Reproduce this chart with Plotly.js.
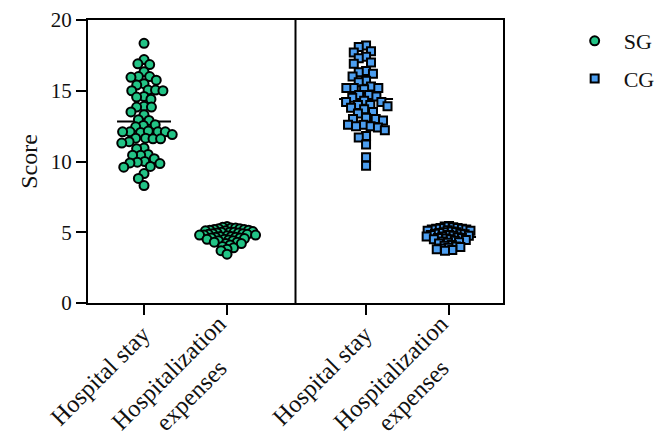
<!DOCTYPE html>
<html>
<head>
<meta charset="utf-8">
<script src="https://cdn.plot.ly/plotly-3.0.1.min.js"></script>
<style>html,body{margin:0;padding:0;background:#fff;}#chart{width:672px;height:438px;}</style>
</head>
<body>
<div id="chart"></div>
<script>
// ---------- data ----------
const categories = ['Hospital stay', 'Hospitalization expenses'];
const categoryLabels = ['Hospital stay', 'Hospitalization<br>expenses'];
const groups = ['SG', 'CG'];
const yTicks = [0, 5, 10, 15, 20];

const sgStay = [18.35, 17.2, 16.9, 16.85, 16.35, 16.0, 16.0, 15.95, 15.75, 15.5, 15.4, 15.05, 15.05, 15.0, 15.0,
  14.6, 14.55, 14.4, 13.9, 13.85, 13.85, 13.5, 13.3, 12.95, 12.9, 12.6, 12.55, 12.45, 12.1, 12.1, 12.1, 12.05,
  12.1, 12.15, 11.9, 11.65, 11.6, 11.6, 11.65, 11.4, 11.3, 10.95, 10.9, 10.5, 10.45, 10.45, 10.2, 10.0, 9.95,
  9.9, 9.85, 9.65, 9.6, 9.15, 8.8, 8.3];
const sgExpenses = [5.4, 5.35, 5.3, 5.3, 5.25, 5.25, 5.2, 5.2, 5.15, 5.15, 5.1, 5.1, 5.05, 5.0, 5.0, 5.0, 4.95, 4.95,
  4.9, 4.9, 4.85, 4.85, 4.8, 4.8, 4.8, 4.75, 4.7, 4.7, 4.65, 4.65, 4.6, 4.6, 4.55, 4.5, 4.5, 4.45, 4.4, 4.4,
  4.3, 4.3, 4.2, 4.2, 4.1, 4.0, 3.9, 3.8, 3.7, 3.45];
const cgStay = [18.2, 18.1, 17.8, 17.7, 17.4, 17.3, 17.0, 16.9, 16.4, 16.3, 16.2, 16.0, 15.7, 15.6, 15.3, 15.2,
  15.2, 15.2, 15.1, 14.7, 14.7, 14.6, 14.5, 14.3, 14.2, 14.2, 14.0, 14.0, 13.9, 13.8, 13.7, 13.5, 13.4, 13.1,
  13.0, 13.0, 12.9, 12.6, 12.6, 12.5, 12.5, 12.4, 12.2, 11.8, 11.7, 11.2, 10.3, 9.7];
const cgExpenses = [5.45, 5.4, 5.35, 5.3, 5.3, 5.25, 5.25, 5.2, 5.2, 5.15, 5.1, 5.1, 5.05, 5.0, 5.0, 4.95, 4.9,
  4.9, 4.85, 4.8, 4.8, 4.75, 4.75, 4.7, 4.7, 4.65, 4.6, 4.6, 4.55, 4.5, 4.5, 4.45, 4.4, 4.35, 4.3, 4.25, 4.2,
  4.1, 4.05, 4.0, 3.95, 3.9, 3.85, 3.8, 3.75, 3.7];

// ---------- layout constants ----------
const W = 672, H = 438;
const M = {l: 88, r: 160, t: 20, b: 135};
const X_RANGE = [0, 4], Y_RANGE = [0, 20];
const pxPerX = (W - M.l - M.r) / (X_RANGE[1] - X_RANGE[0]);
const pxPerY = (H - M.t - M.b) / (Y_RANGE[1] - Y_RANGE[0]);
// category centres on the shared x axis (panel 1: 0..2, panel 2: 2..4)
const centres = {SG: [0.54, 1.34], CG: [2.68, 3.48]};
const spread = [7.6, 4.5]; // collision distance in px for the swarm, per category
const meanHalf = 0.26;
const labelShift = [{x: 14, y: -15}, {x: 30, y: -4}];

// simple beeswarm: offsets computed in pixel space from the values
function swarm(values, centre, D) {
  const order = values.map((v, i) => i).sort((a, b) => values[b] - values[a]);
  const placed = [];
  const xs = new Array(values.length);
  order.forEach(i => {
    const y = values[i] * pxPerY;
    const cands = [0];
    placed.forEach(p => {
      const dy = y - p.y;
      if (Math.abs(dy) < D) {
        const dx = Math.sqrt(D * D - dy * dy);
        cands.push(p.x - dx, p.x + dx);
      }
    });
    cands.sort((a, b) => Math.abs(a) - Math.abs(b));
    let chosen = 0;
    for (const c of cands) {
      const ok = placed.every(p => (p.x - c) ** 2 + (p.y - y) ** 2 >= D * D - 0.01);
      if (ok) { chosen = c; break; }
    }
    placed.push({x: chosen, y: y});
    xs[i] = centre + chosen / pxPerX;
  });
  return xs;
}
const mean = a => a.reduce((s, v) => s + v, 0) / a.length;

const series = {SG: [sgStay, sgExpenses], CG: [cgStay, cgExpenses]};
const style = {
  SG: {symbol: 'circle', size: 9, color: '#22c486'},
  CG: {symbol: 'square', size: 8, color: '#4c9ef0'}
};

const traces = [];
// mean lines (under the points)
groups.forEach(g => {
  series[g].forEach((vals, k) => {
    const m = mean(vals);
    traces.push({
      x: [centres[g][k] - meanHalf, centres[g][k] + meanHalf], y: [m, m],
      mode: 'lines', line: {color: '#000', width: 2}, showlegend: false, hoverinfo: 'skip'
    });
  });
});
groups.forEach(g => {
  const xs = [], ys = [];
  series[g].forEach((vals, k) => {
    const sx = swarm(vals, centres[g][k], spread[k]);
    vals.forEach((v, i) => { xs.push(sx[i]); ys.push(v); });
  });
  traces.push({
    x: xs, y: ys, mode: 'markers', name: g, legendgroup: g,
    marker: {symbol: style[g].symbol, size: style[g].size, color: style[g].color,
             line: {color: '#000', width: 2}}
  });
});

const font = {family: 'Liberation Serif, Times New Roman, serif', color: '#111'};
const tickVals = [];
const annotations = [];
groups.forEach(g => categories.forEach((c, k) => {
  tickVals.push(centres[g][k]);
  annotations.push({
    xref: 'x', yref: 'paper', x: centres[g][k], y: 0, xanchor: 'right', yanchor: 'top',
    xshift: labelShift[k].x, yshift: labelShift[k].y, textangle: -45, align: 'center',
    text: categoryLabels[k], showarrow: false, font: Object.assign({size: 24.5}, font)
  });
}));

const layout = {
  width: W, height: H, margin: M,
  paper_bgcolor: '#fff', plot_bgcolor: '#fff',
  font: Object.assign({size: 22}, font),
  showlegend: true,
  legend: {x: 1.151, y: 1.0, xanchor: 'left', yanchor: 'top', font: Object.assign({size: 22}, font),
           traceorder: 'grouped', tracegroupgap: 6, itemwidth: 48, bgcolor: 'rgba(0,0,0,0)'},
  xaxis: {range: X_RANGE, tickmode: 'array', tickvals: tickVals, showticklabels: false,
          showgrid: false, zeroline: false, showline: true, mirror: true, linecolor: '#000', linewidth: 2,
          ticks: 'outside', ticklen: 10, tickwidth: 2, tickcolor: '#000'},
  yaxis: {range: Y_RANGE, tickmode: 'array', tickvals: yTicks, showgrid: false, zeroline: false,
          showline: true, mirror: true, linecolor: '#000', linewidth: 2,
          ticks: 'outside', ticklen: 10, tickwidth: 2, tickcolor: '#000',
          tickfont: Object.assign({size: 21}, font),
          title: {text: 'Score', font: Object.assign({size: 24}, font), standoff: 6}},
  annotations: annotations,
  shapes: [{type: 'line', xref: 'x', yref: 'paper', x0: 2, x1: 2, y0: 0, y1: 1,
            line: {color: '#000', width: 2}}]
};

Plotly.newPlot('chart', traces, layout, {displayModeBar: false, staticPlot: true});
</script>
</body>
</html>
